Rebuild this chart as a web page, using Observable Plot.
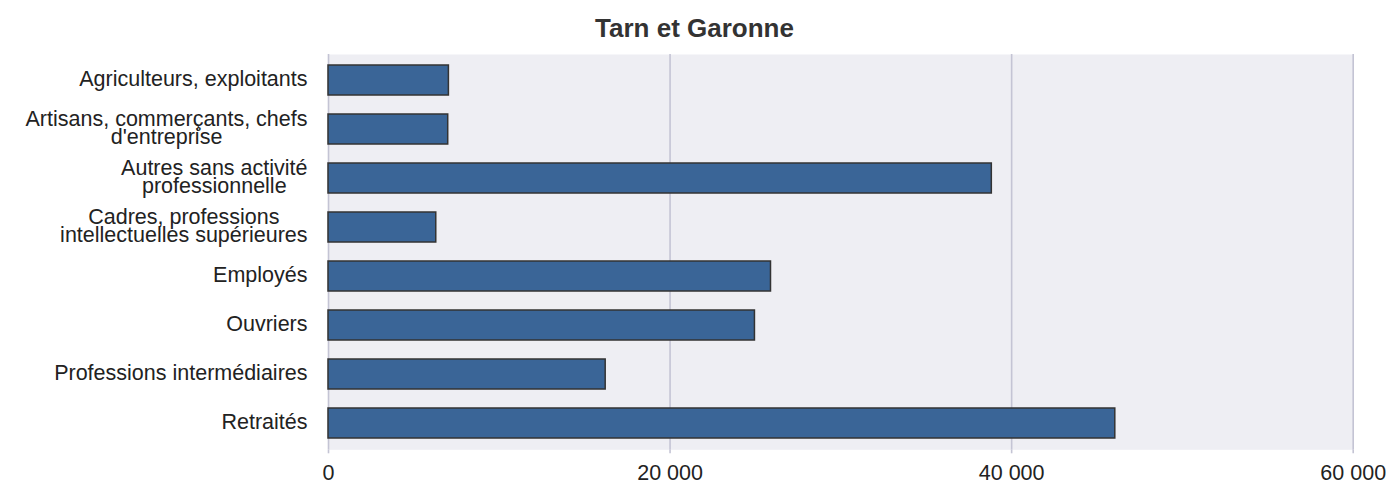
<!DOCTYPE html>
<html><head><meta charset="utf-8">
<script src="https://cdn.jsdelivr.net/npm/d3@7"></script>
<script src="https://cdn.jsdelivr.net/npm/@observablehq/plot@0.6"></script>
<style>
body{margin:0;background:#fff;font-family:"Liberation Sans",Arial,sans-serif;}
#title{box-sizing:border-box;height:44px;padding-top:15px;line-height:26px;text-align:center;font-weight:bold;font-size:26px;color:#333;white-space:nowrap;}
#chart svg{display:block;}
</style></head><body>
<div id="title"></div>
<div id="chart"></div>
<script>
const titleText = "Tarn et Garonne";
const categories = [
  "Agriculteurs, exploitants",
  "Artisans, commerçants, chefs\nd'entreprise",
  "Autres sans activité\nprofessionnelle",
  "Cadres, professions\nintellectuelles supérieures",
  "Employés",
  "Ouvriers",
  "Professions intermédiaires",
  "Retraités"
];
const values = [7050, 7010, 38840, 6310, 25910, 24970, 16230, 46070];
const xTicks = [0, 20000, 40000, 60000];

document.getElementById("title").textContent = titleText;

const data = categories.map((c, i) => ({category: c, value: values[i]}));
const fmt = d => d3.format(",")(d).replace(/,/g, " ");

const fontSize = 21.5;
const ctx = document.createElement("canvas").getContext("2d");
ctx.font = `${fontSize}px "Liberation Sans"`;
const blockWidth = c => Math.max(...c.split("\n").map(l => ctx.measureText(l).width));

const labelMarks = categories.map(c => Plot.text([c], {
  y: d => d, text: d => d, frameAnchor: "left", textAnchor: "middle",
  dx: -21 - blockWidth(c) / 2, lineHeight: 0.83, fontSize, fill: "#222"
}));

const chart = Plot.plot({
  width: 1389, height: 438,
  marginLeft: 328, marginRight: 36.3, marginTop: 10, marginBottom: 32.7,
  style: {fontFamily: '"Liberation Sans", Arial, sans-serif', fontSize: `${fontSize}px`, color: "#222", background: "#fff"},
  x: {domain: [0, 60000], axis: null, label: null},
  y: {domain: categories, paddingInner: 0.39, paddingOuter: 0.22, axis: null, label: null},
  marks: [
    Plot.frame({fill: "#eeeef3", stroke: null}),
    Plot.gridX(xTicks, {stroke: "#c4c4d4", strokeOpacity: 1, strokeWidth: 1.6}),
    Plot.axisX(xTicks, {tickSize: 4, stroke: "#c4c4d4", strokeWidth: 1.6, tickPadding: 11, fontSize, tickFormat: fmt, label: null}),
    Plot.barX(data, {x: "value", y: "category", fill: "#3a6597", stroke: "#333", strokeWidth: 1.5}),
    ...labelMarks
  ]
});
document.getElementById("chart").appendChild(chart);
</script>
</body></html>
